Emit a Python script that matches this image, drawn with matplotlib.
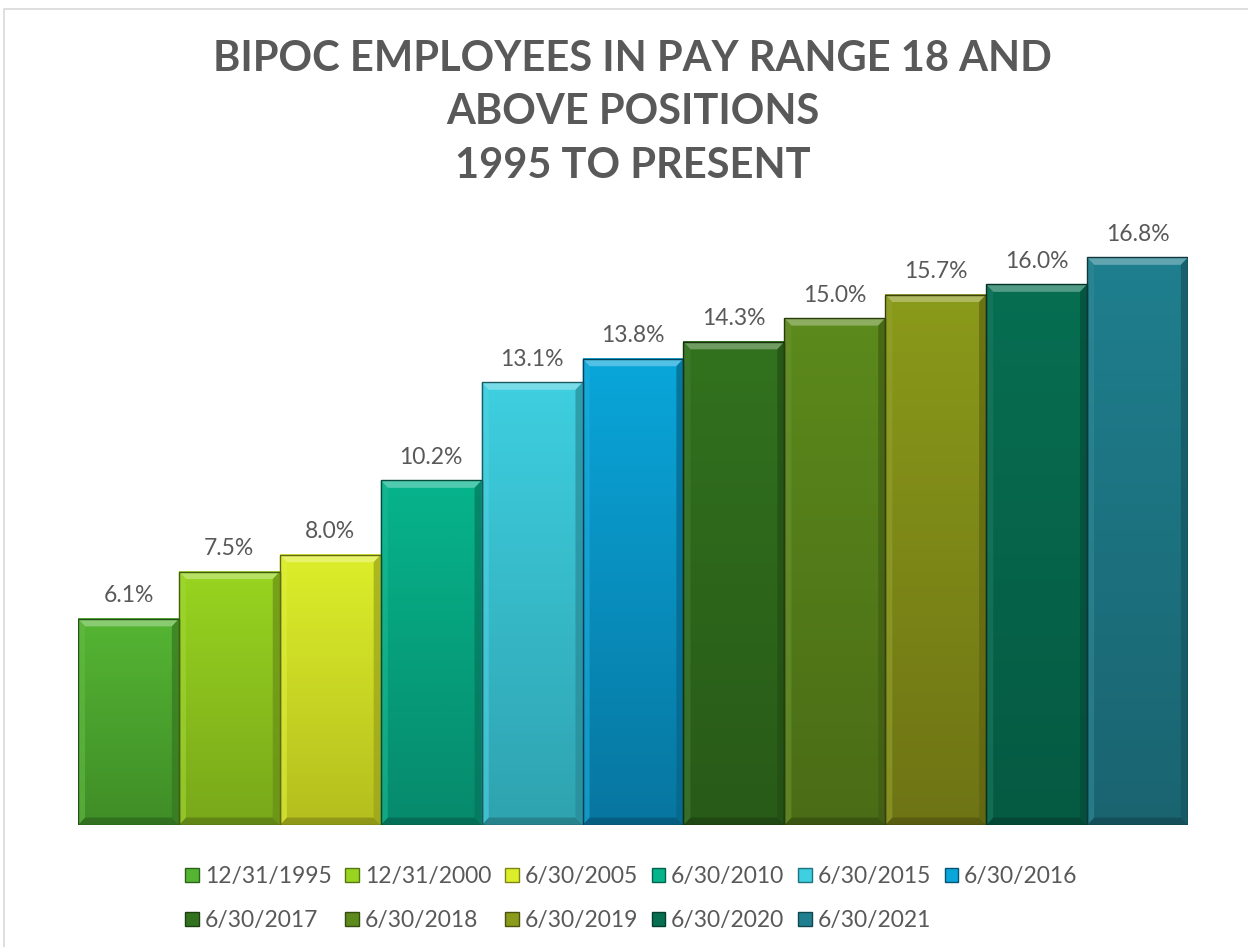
import numpy as np
import matplotlib
matplotlib.use("Agg")
import matplotlib.pyplot as plt
from matplotlib.patches import Polygon, Patch, Rectangle
from matplotlib.colors import to_rgb

# data
dates = ['12/31/1995', '12/31/2000', '6/30/2005', '6/30/2010', '6/30/2015', '6/30/2016',
         '6/30/2017', '6/30/2018', '6/30/2019', '6/30/2020', '6/30/2021']
pct = [6.1, 7.5, 8.0, 10.2, 13.1, 13.8, 14.3, 15.0, 15.7, 16.0, 16.8]

# top / bottom gradient colours per bar
top_colors = ['#55b533', '#98d420', '#dcee2a', '#06b48c', '#3ecfe0', '#0aa6da',
              '#32721e', '#5c8a1c', '#8a9a1a', '#076e52', '#1f7f8e']
bot_colors = ['#3f8d27', '#79a81a', '#b4be1e', '#068a6c', '#2fa3b0', '#0776a0',
              '#285a18', '#4a6c16', '#6e7414', '#055a42', '#1a6470']

grey = '#595959'
plt.rcParams['font.family'] = ['Lato', 'DejaVu Sans']

fig = plt.figure(figsize=(12.48, 9.47), dpi=100)
ax = fig.add_axes([0.0625, 0.1288, 0.8894, 0.6422])

# light frame around the chart area
fig.patches.append(Rectangle((4 / 1248, -0.1), 1.2, (947 - 9) / 947 + 0.1,
                             transform=fig.transFigure, fill=False,
                             edgecolor='#d9d9d9', linewidth=1.2))


def mix(c, t, amt):
    c = np.array(to_rgb(c))
    t = np.array(to_rgb(t))
    return tuple(c + (t - c) * amt)


bx, by = 0.07, 0.22
for i, (v, ct, cb) in enumerate(zip(pct, top_colors, bot_colors)):
    x0, x1 = i - 0.5, i + 0.5
    a = np.array(to_rgb(ct))
    b = np.array(to_rgb(cb))
    t = np.linspace(0, 1, 200)[:, None]
    grad = (a + (b - a) * t)[:, None, :]
    ax.imshow(grad, extent=(x0, x1, 0, v), aspect='auto', origin='upper', zorder=2)
    # bevel pieces
    ax.add_patch(Polygon([(x0, v), (x1, v), (x1 - bx, v - by), (x0 + bx, v - by)],
                         closed=True, facecolor=mix(ct, 'white', 0.3), edgecolor='none', zorder=3))
    ax.add_patch(Polygon([(x0, 0), (x1, 0), (x1 - bx, by), (x0 + bx, by)],
                         closed=True, facecolor=mix(cb, 'black', 0.2), edgecolor='none', zorder=3))
    ax.add_patch(Polygon([(x0, 0), (x0, v), (x0 + bx, v - by), (x0 + bx, by)],
                         closed=True, facecolor=mix(ct, 'white', 0.08), edgecolor='none', alpha=0.6, zorder=3))
    ax.add_patch(Polygon([(x1, 0), (x1, v), (x1 - bx, v - by), (x1 - bx, by)],
                         closed=True, facecolor=mix(cb, 'black', 0.15), edgecolor='none', alpha=0.7, zorder=3))
    ax.add_patch(Rectangle((x0, 0), 1, v, fill=False, edgecolor=mix(cb, 'black', 0.45),
                           linewidth=1.0, zorder=4))
    ax.annotate(f'{v:.1f}%', (i, v), xytext=(0, 9), textcoords='offset points',
                ha='center', va='bottom', fontsize=16.5, color=grey)

ax.set_xlim(-0.5, 10.5)
ax.set_ylim(0, 18)
ax.axis('off')

fig.text(0.507, 0.958, 'BIPOC EMPLOYEES IN PAY RANGE 18 AND\nABOVE POSITIONS\n1995 TO PRESENT',
         ha='center', va='top', fontsize=30, fontweight='bold', color=grey, linespacing=1.5)

handles = [Patch(facecolor=c, edgecolor=mix(b, 'black', 0.3), label=d)
           for c, b, d in zip(top_colors, bot_colors, dates)]
order = [0, 6, 1, 7, 2, 8, 3, 9, 4, 10, 5]
leg = fig.legend([handles[k] for k in order], [dates[k] for k in order],
                 loc='center', bbox_to_anchor=(0.506, 0.051), ncol=6, frameon=False,
                 fontsize=16.5, handlelength=0.6, handleheight=0.6, handletextpad=0.25,
                 columnspacing=0.6, labelspacing=1.0)
for t in leg.get_texts():
    t.set_color(grey)

fig.savefig('out.png', dpi=100)
